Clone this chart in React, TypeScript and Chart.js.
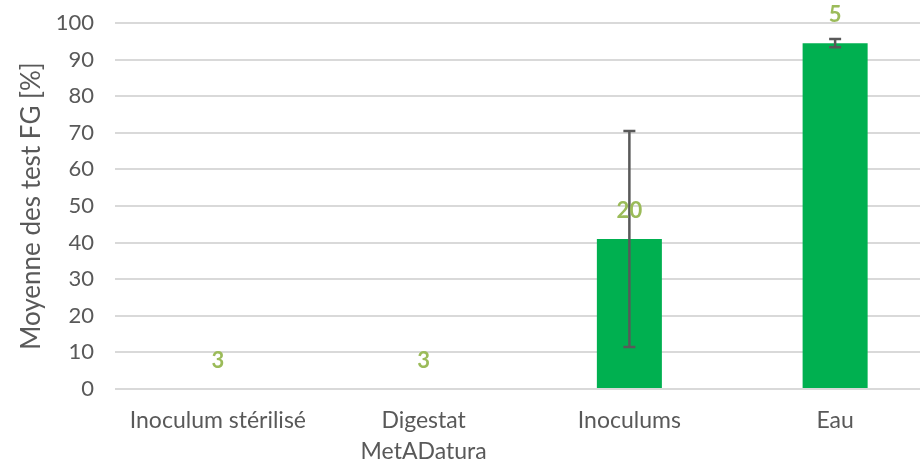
import React, { useEffect, useRef } from "react";
import { Chart, registerables } from "chart.js";

Chart.register(...registerables);

const categories: (string | string[])[] = ["Inoculum stérilisé", ["Digestat", "MetADatura"], "Inoculums", "Eau"];
const meanValues = [0, 0, 41, 94.5];
const errorValues = [0, 0, 29.5, 1.1];
const countLabels = ["3", "3", "20", "5"];
const yAxisTitle = "Moyenne des test FG [%]";

const FONT = "Lato, 'Open Sans', sans-serif";

const overlayPlugin = {
  id: "overlay",
  afterDatasetsDraw(chart: any) {
    const ctx = chart.ctx;
    const xs = chart.scales.x;
    const ys = chart.scales.y;
    ctx.save();
    // error bars
    ctx.strokeStyle = "#595959";
    ctx.lineWidth = 2.5;
    meanValues.forEach((v, i) => {
      const e = errorValues[i];
      if (!e) return;
      const x = xs.getPixelForValue(i);
      const yt = ys.getPixelForValue(v + e);
      const yb = ys.getPixelForValue(v - e);
      ctx.beginPath();
      ctx.moveTo(x, yt);
      ctx.lineTo(x, yb);
      ctx.moveTo(x - 6, yt);
      ctx.lineTo(x + 6, yt);
      ctx.moveTo(x - 6, yb);
      ctx.lineTo(x + 6, yb);
      ctx.stroke();
    });
    // count labels
    ctx.fillStyle = "#9BBB59";
    ctx.font = `bold 22px ${FONT}`;
    ctx.textAlign = "center";
    ctx.textBaseline = "middle";
    meanValues.forEach((v, i) => {
      const x = xs.getPixelForValue(i);
      const y = ys.getPixelForValue(v) - 28;
      ctx.fillText(countLabels[i], x, y);
    });
    ctx.restore();
  },
};

export default function App() {
  const ref = useRef<HTMLCanvasElement>(null);
  useEffect(() => {
    if (!ref.current) return;
    const chart = new Chart(ref.current, {
      type: "bar",
      data: {
        labels: categories,
        datasets: [
          {
            data: meanValues,
            backgroundColor: "#00B050",
            borderWidth: 0,
            categoryPercentage: 1,
            barPercentage: 0.316,
          },
        ],
      },
      options: {
        responsive: false,
        animation: false,
        devicePixelRatio: 1,
        layout: { padding: { top: 23, right: 2, left: 0, bottom: 0 } },
        plugins: { legend: { display: false }, tooltip: { enabled: false } },
        scales: {
          x: {
            grid: { display: false },
            border: { display: false },
            ticks: {
              color: "#595959",
              font: { family: FONT, size: 23, lineHeight: 1.35 },
              padding: 8,
              maxRotation: 0,
              autoSkip: false,
            },
            afterFit(scale: any) {
              scale.height = 72;
              scale.paddingLeft = 0;
              scale.paddingRight = 0;
            },
          },
          y: {
            min: 0,
            max: 100,
            border: { display: false },
            grid: { color: "#D9D9D9", lineWidth: 2, drawTicks: false },
            ticks: {
              stepSize: 10,
              color: "#595959",
              font: { family: FONT, size: 22 },
              padding: 21,
            },
            title: {
              display: true,
              text: yAxisTitle,
              color: "#595959",
              font: { family: FONT, size: 26 },
              padding: { top: 16, bottom: 0 },
            },
            afterFit(scale: any) {
              scale.width = 115;
              scale.paddingTop = 0;
              scale.paddingBottom = 0;
            },
          },
        },
      },
      plugins: [overlayPlugin],
    });
    return () => chart.destroy();
  }, []);
  return (
    <div style={{ position: "fixed", left: 0, top: 0, width: 920, height: 461, overflow: "hidden", background: "#fff" }}>
      <canvas ref={ref} width={940} height={461} style={{ width: 940, height: 461, display: "block" }} />
    </div>
  );
}
